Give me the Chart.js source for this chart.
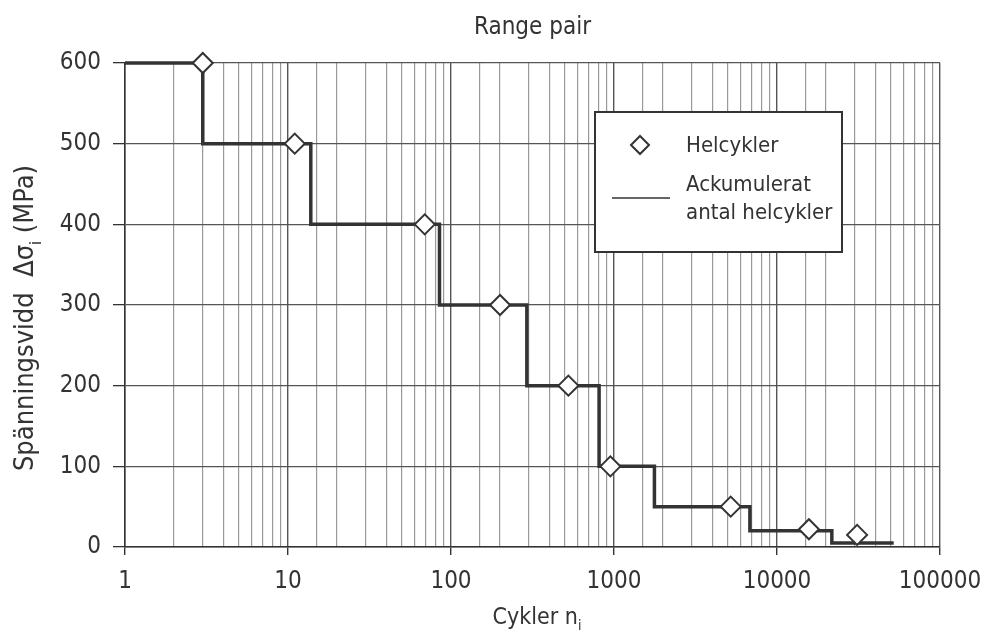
<!DOCTYPE html>
<html>
<head>
<meta charset="utf-8">
<script src="https://cdn.jsdelivr.net/npm/chart.js@4"></script>
<style>
  html, body { margin: 0; padding: 0; background: #fff; }
  #chart { display: block; }
</style>
</head>
<body>
<canvas id="chart" width="984" height="637"></canvas>
<script>
// Helcykler (markers)
const cycleCounts = [3, 11, 69, 200, 525, 950, 5200, 15700, 31000];
const rangeLevels = [600, 500, 400, 300, 200, 100, 50, 22, 15];

// Ackumulerat antal helcykler (step line)
const cumulativeCycles = [1, 3, 13.8, 85, 292, 810, 1770, 6820, 21700, 52000];
const cumulativeLevels = [600, 500, 400, 300, 200, 100, 50, 20, 5, 5];

const yTicks = [0, 100, 200, 300, 400, 500, 600];
const xRange = [1, 100000];

const FONT = "'Liberation Sans Narrow', 'DejaVu Sans Condensed', 'Arial Narrow', sans-serif";
const INK = '#333333';

const isDecade = (v) => Math.abs(Math.log10(v) - Math.round(Math.log10(v))) < 1e-9;

// draws text with a subscript part: parts = [[text, isSub], ...], centred on (0,0)
function drawSubText(ctx, parts, size) {
  const subSize = Math.round(size * 0.6);
  const widths = parts.map(([t, sub]) => {
    ctx.font = `${sub ? subSize : size}px ${FONT}`;
    return ctx.measureText(t).width;
  });
  const total = widths.reduce((a, b) => a + b, 0);
  let x = -total / 2;
  parts.forEach(([t, sub], i) => {
    ctx.font = `${sub ? subSize : size}px ${FONT}`;
    ctx.fillText(t, x, sub ? size * 0.62 : size * 0.35);
    x += widths[i];
  });
}

const titlePlugin = {
  id: 'titlePlugin',
  afterDraw(chart) {
    const { ctx, chartArea } = chart;
    ctx.save();
    ctx.fillStyle = INK;
    ctx.font = `24px ${FONT}`;
    ctx.textAlign = 'center';
    ctx.textBaseline = 'middle';
    ctx.fillText('Range pair', (chartArea.left + chartArea.right) / 2, 28);

    ctx.textAlign = 'left';
    ctx.textBaseline = 'alphabetic';
    // x axis title
    ctx.save();
    ctx.translate(537, 616);
    drawSubText(ctx, [['Cykler n', false], ['i', true]], 23);
    ctx.restore();
    // y axis title
    ctx.save();
    ctx.translate(24, 318);
    ctx.rotate(-Math.PI / 2);
    drawSubText(ctx, [['Spänningsvidd  Δσ', false], ['i', true], [' (MPa)', false]], 27);
    ctx.restore();
    ctx.restore();
  }
};

// legend box with the two-line label, as in the original figure
const boxLegend = {
  id: 'boxLegend',
  afterDraw(chart) {
    const ctx = chart.ctx;
    const x = 595, y = 112, w = 247, h = 140;
    ctx.save();
    ctx.fillStyle = '#fff';
    ctx.fillRect(x, y, w, h);
    ctx.strokeStyle = INK;
    ctx.lineWidth = 2;
    ctx.strokeRect(x, y, w, h);

    // diamond
    const cx = 640, cy = 145, r = 9;
    ctx.beginPath();
    ctx.moveTo(cx, cy - r);
    ctx.lineTo(cx + r, cy);
    ctx.lineTo(cx, cy + r);
    ctx.lineTo(cx - r, cy);
    ctx.closePath();
    ctx.fillStyle = '#fff';
    ctx.fill();
    ctx.lineWidth = 2;
    ctx.stroke();

    // line sample
    ctx.beginPath();
    ctx.moveTo(612, 198);
    ctx.lineTo(670, 198);
    ctx.lineWidth = 1.5;
    ctx.stroke();

    ctx.fillStyle = INK;
    ctx.font = `22px ${FONT}`;
    ctx.textAlign = 'left';
    ctx.textBaseline = 'middle';
    ctx.fillText('Helcykler', 686, 146);
    ctx.fillText('Ackumulerat', 686, 185);
    ctx.fillText('antal helcykler', 686, 213);
    ctx.restore();
  }
};

const ctx = document.getElementById('chart').getContext('2d');

new Chart(ctx, {
  type: 'line',
  data: {
    datasets: [
      {
        label: 'Helcykler',
        data: cycleCounts.map((x, i) => ({ x, y: rangeLevels[i] })),
        showLine: false,
        pointStyle: 'rectRot',
        pointRadius: 10,
        pointBackgroundColor: '#fff',
        pointBorderColor: INK,
        pointBorderWidth: 2,
        clip: false,
        order: 0
      },
      {
        label: 'Ackumulerat antal helcykler',
        data: cumulativeCycles.map((x, i) => ({ x, y: cumulativeLevels[i] })),
        stepped: 'before',
        borderColor: INK,
        borderWidth: 3.5,
        pointRadius: 0,
        fill: false,
        clip: false,
        order: 1
      }
    ]
  },
  options: {
    responsive: false,
    animation: false,
    layout: { padding: { top: 63, right: 44, left: 0, bottom: 0 } },
    plugins: {
      legend: { display: false },
      tooltip: { enabled: false },
      title: { display: false }
    },
    scales: {
      x: {
        type: 'logarithmic',
        min: xRange[0],
        max: xRange[1],
        afterFit: (s) => {
          s.height = 90;
          s.paddingLeft = 0;
          s.paddingRight = 0;
        },
        ticks: {
          autoSkip: false,
          maxRotation: 0,
          color: INK,
          font: { family: FONT, size: 24 },
          padding: 12,
          callback: (v) => (isDecade(v) ? String(v) : '')
        },
        grid: {
          color: (c) => (c.tick && isDecade(c.tick.value) ? '#555' : '#999'),
          lineWidth: (c) => (c.tick && isDecade(c.tick.value) ? 1.4 : 1.2),
          tickLength: 8,
          tickColor: (c) => (c.tick && isDecade(c.tick.value) ? INK : 'rgba(0,0,0,0)')
        },
        border: { color: INK, width: 1.5 }
      },
      y: {
        type: 'linear',
        min: yTicks[0],
        max: yTicks[yTicks.length - 1],
        afterFit: (s) => { s.width = 125; },
        afterBuildTicks: (s) => { s.ticks = yTicks.map((v) => ({ value: v })); },
        ticks: {
          color: INK,
          font: { family: FONT, size: 24 },
          padding: 12
        },
        grid: {
          color: '#555',
          lineWidth: 1.3,
          tickLength: 12,
          tickColor: INK
        },
        border: { color: INK, width: 1.5 }
      }
    }
  },
  plugins: [titlePlugin, boxLegend]
});
</script>
</body>
</html>
